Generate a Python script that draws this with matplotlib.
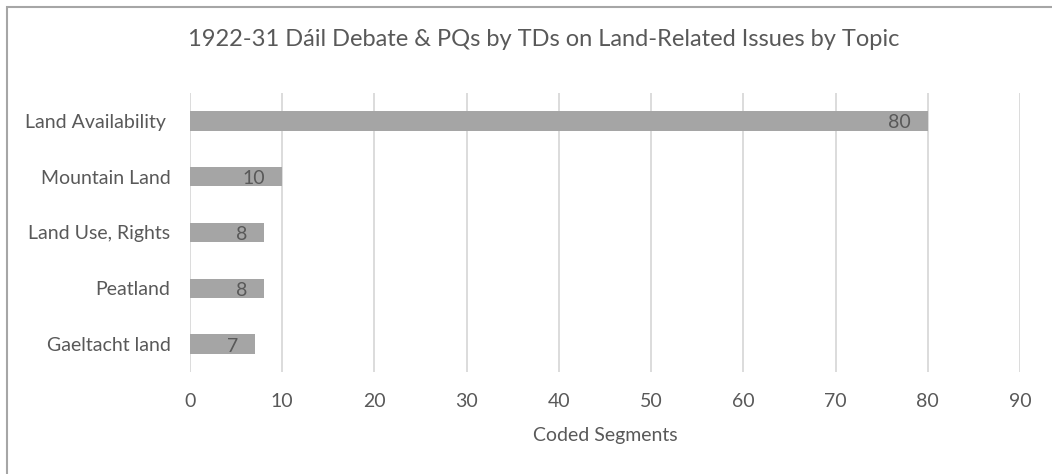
import matplotlib
matplotlib.use("Agg")
import matplotlib.pyplot as plt
from matplotlib.patches import Rectangle

categories = ["Land Availability ", "Mountain Land", "Land Use, Rights", "Peatland", "Gaeltacht land"]
values = [80, 10, 8, 8, 7]
x_ticks = [0, 10, 20, 30, 40, 50, 60, 70, 80, 90]

title = "1922-31 Dáil Debate & PQs by TDs on Land-Related Issues by Topic"
x_label = "Coded Segments"

TEXT = "#595959"
BAR = "#a5a5a5"
GRID = "#d9d9d9"

plt.rcParams["font.family"] = ["Lato", "DejaVu Sans"]

W, H = 1052, 474
fig = plt.figure(figsize=(W / 100, H / 100), dpi=100)
fig.patch.set_facecolor("white")

# chart-area frame (left and top edges visible)
fig.patches.append(Rectangle((7 / W, -0.1), 1.2, (H - 7) / H + 0.1, transform=fig.transFigure,
                             fill=False, edgecolor="#a6a6a6", linewidth=1.5))

ax = fig.add_axes([190 / W, (H - 372) / H, (1020 - 190) / W, (372 - 93) / H])
y = list(range(len(categories)))
ax.barh(y, values, height=0.35, color=BAR, zorder=3)
ax.set_ylim(len(categories) - 0.5, -0.5)
ax.set_xlim(0, 90)
ax.set_xticks(x_ticks)
ax.set_xticklabels([str(t) for t in x_ticks])
ax.set_yticks(y)
ax.set_yticklabels(categories)
ax.tick_params(axis="both", length=0, colors=TEXT, labelsize=14)
ax.tick_params(axis="y", pad=14)
ax.tick_params(axis="x", pad=15)
ax.grid(axis="x", color=GRID, linewidth=1.3, zorder=0)
for s in ax.spines.values():
    s.set_visible(False)

for yi, v in zip(y, values):
    ax.annotate(str(v), xy=(v, yi), xytext=(-12, -1.5), textcoords="offset points",
                ha="right", va="center", color=TEXT, fontsize=14, zorder=4)

ax.set_xlabel(x_label, color=TEXT, fontsize=14, labelpad=12)
fig.text(544 / W, 1 - 40 / H, title, ha="center", va="center",
         color=TEXT, fontsize=17)

fig.savefig("out.png", dpi=100)
